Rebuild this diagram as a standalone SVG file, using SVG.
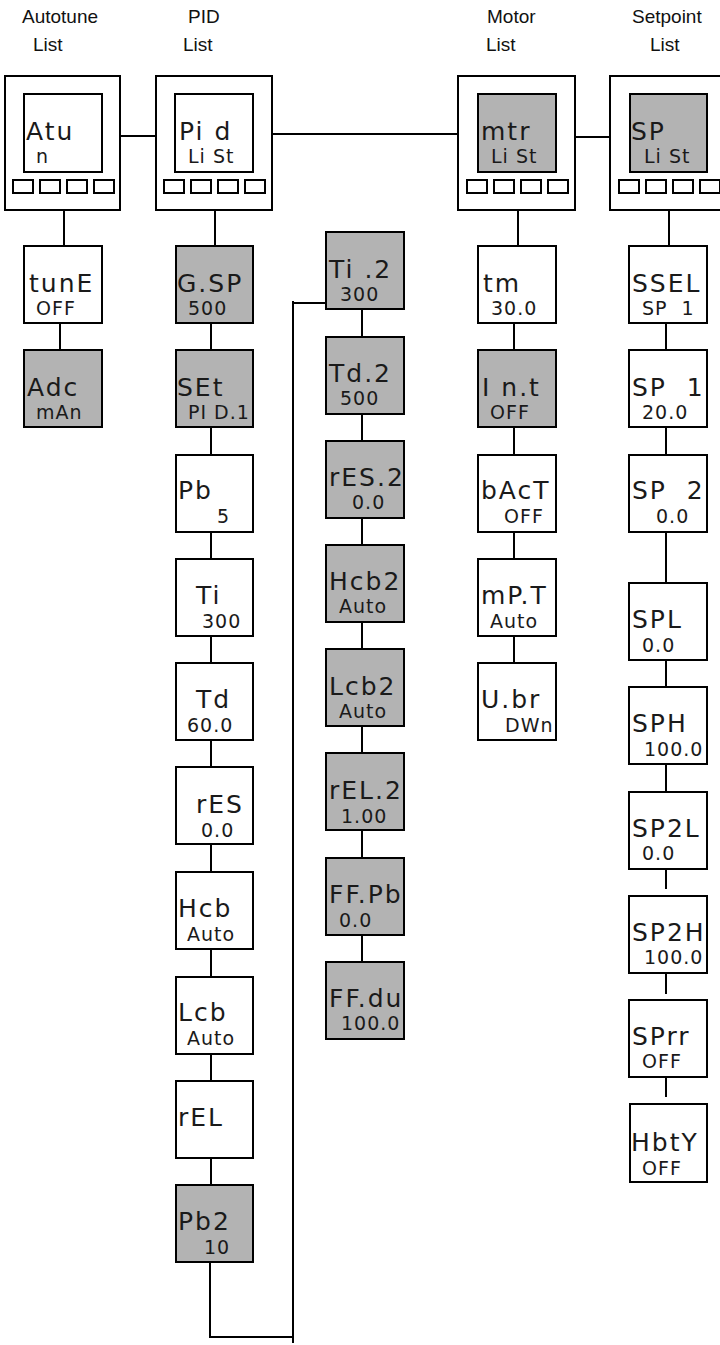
<svg xmlns="http://www.w3.org/2000/svg" width="720" height="1345" viewBox="0 0 720 1345" xml:space="preserve">
<style>
.hd{font-family:"Liberation Sans",Arial,sans-serif;font-size:19px;fill:#111}
.lb{font-family:"DejaVu Sans",sans-serif;font-size:25px;letter-spacing:2px;fill:#1a1a1a;white-space:pre}
.vl{font-family:"DejaVu Sans",sans-serif;font-size:19px;letter-spacing:1px;fill:#1a1a1a;white-space:pre}
.bx{fill:#fff;stroke:#000;stroke-width:2}
.gy{fill:#b3b3b3;stroke:#000;stroke-width:2}
.dev{fill:#fff;stroke:#000;stroke-width:2}
.btn{fill:#fff;stroke:#000;stroke-width:2}
.cn{fill:none;stroke:#000;stroke-width:2}
</style>
<defs>
<g id="btns">
<rect class="btn" x="0" y="0" width="20" height="13"/>
<rect class="btn" x="27" y="0" width="20" height="13"/>
<rect class="btn" x="54" y="0" width="20" height="13"/>
<rect class="btn" x="81" y="0" width="20" height="13"/>
</g>
</defs>

<g id="headers">
<text class="hd" x="22" y="23">Autotune</text>
<text class="hd" x="33" y="51">List</text>
<text class="hd" x="188" y="23">PID</text>
<text class="hd" x="183" y="51">List</text>
<text class="hd" x="487" y="23">Motor</text>
<text class="hd" x="486" y="51">List</text>
<text class="hd" x="632" y="23">Setpoint</text>
<text class="hd" x="650" y="51">List</text>
</g>

<g id="connectors">
<path class="cn" d="M120 136H156M272 134H458M575 137H610"/>
<path class="cn" d="M64 210V246M60 323V350"/>
<path class="cn" d="M215 210V246M211 323V350M211 427V455M211 532V559M211 636V663M211 740V767M211 844V872M211 949V977M211 1054V1081M211 1158V1185"/>
<path class="cn" d="M210 1262V1337H294M293 1343V301M292 303H326"/>
<path class="cn" d="M362 309V337M362 414V441M362 518V545M362 622V649M362 726V753M362 830V858M362 935V962"/>
<path class="cn" d="M518 210V246M514 323V350M514 427V455M514 532V559M514 636V663"/>
<path class="cn" d="M669 210V246M666 323V350M666 427V455M666 532V583M666 660V687M666 764V792M666 869V889M666 973V994M666 1077V1097"/>
</g>

<g id="dev-autotune">
<rect class="dev" x="5" y="76" width="115" height="134"/>
<rect class="bx" x="24" y="94" width="78" height="78"/>
<use href="#btns" x="13" y="180"/>
<text class="lb" x="26" y="140">Atu</text>
<text class="vl" x="36" y="163">n</text>
</g>
<g id="dev-pid">
<rect class="dev" x="156" y="76" width="116" height="134"/>
<rect class="bx" x="175" y="94" width="78" height="78"/>
<use href="#btns" x="164" y="180"/>
<text class="lb" x="179" y="140">Pi d</text>
<text class="vl" x="188" y="163">Li St</text>
</g>
<g id="dev-motor">
<rect class="dev" x="458" y="76" width="117" height="134"/>
<rect class="gy" x="478" y="94" width="78" height="78"/>
<use href="#btns" x="467" y="180"/>
<text class="lb" x="481" y="140">mtr</text>
<text class="vl" x="491" y="163">Li St</text>
</g>
<g id="dev-setpoint">
<rect class="dev" x="610" y="76" width="117" height="134"/>
<rect class="gy" x="630" y="94" width="77" height="78"/>
<use href="#btns" x="619" y="180"/>
<text class="lb" x="631" y="140">SP</text>
<text class="vl" x="644" y="163">Li St</text>
</g>

<g id="n-tunE"><rect class="bx" x="24" y="246" width="78" height="77"/><text class="lb" x="29" y="292">tunE</text><text class="vl" x="36" y="315">OFF</text></g>
<g id="n-Adc"><rect class="gy" x="24" y="350" width="78" height="77"/><text class="lb" x="27" y="396">Adc</text><text class="vl" x="36" y="419">mAn</text></g>

<g id="n-GSP"><rect class="gy" x="176" y="246" width="77" height="77"/><text class="lb" x="177" y="292">G.SP</text><text class="vl" x="188" y="315">500</text></g>
<g id="n-SEt"><rect class="gy" x="176" y="350" width="77" height="77"/><text class="lb" x="177" y="396">SEt</text><text class="vl" x="188" y="419">PI D.1</text></g>
<g id="n-Pb"><rect class="bx" x="176" y="455" width="77" height="77"/><text class="lb" x="178" y="499">Pb</text><text class="vl" x="217" y="523">5</text></g>
<g id="n-Ti"><rect class="bx" x="176" y="559" width="77" height="77"/><text class="lb" x="196" y="604">Ti</text><text class="vl" x="202" y="628">300</text></g>
<g id="n-Td"><rect class="bx" x="176" y="663" width="77" height="77"/><text class="lb" x="196" y="708">Td</text><text class="vl" x="187" y="732">60.0</text></g>
<g id="n-rES"><rect class="bx" x="176" y="767" width="77" height="77"/><text class="lb" x="196" y="813">rES</text><text class="vl" x="201" y="837">0.0</text></g>
<g id="n-Hcb"><rect class="bx" x="176" y="872" width="77" height="77"/><text class="lb" x="178" y="917">Hcb</text><text class="vl" x="187" y="941">Auto</text></g>
<g id="n-Lcb"><rect class="bx" x="176" y="977" width="77" height="77"/><text class="lb" x="178" y="1021">Lcb</text><text class="vl" x="187" y="1045">Auto</text></g>
<g id="n-rEL"><rect class="bx" x="176" y="1081" width="77" height="77"/><text class="lb" x="178" y="1126">rEL</text></g>
<g id="n-Pb2"><rect class="gy" x="176" y="1185" width="77" height="77"/><text class="lb" x="178" y="1230">Pb2</text><text class="vl" x="204" y="1254">10</text></g>

<g id="n-Ti2"><rect class="gy" x="326" y="232" width="78" height="77"/><text class="lb" x="329" y="278">Ti .2</text><text class="vl" x="340" y="301">300</text></g>
<g id="n-Td2"><rect class="gy" x="326" y="337" width="78" height="77"/><text class="lb" x="329" y="382">Td.2</text><text class="vl" x="340" y="405">500</text></g>
<g id="n-rES2"><rect class="gy" x="326" y="441" width="78" height="77"/><text class="lb" x="329" y="486">rES.2</text><text class="vl" x="352" y="509">0.0</text></g>
<g id="n-Hcb2"><rect class="gy" x="326" y="545" width="78" height="77"/><text class="lb" x="329" y="590">Hcb2</text><text class="vl" x="339" y="613">Auto</text></g>
<g id="n-Lcb2"><rect class="gy" x="326" y="649" width="78" height="77"/><text class="lb" x="329" y="695">Lcb2</text><text class="vl" x="339" y="718">Auto</text></g>
<g id="n-rEL2"><rect class="gy" x="326" y="753" width="78" height="77"/><text class="lb" x="329" y="799">rEL.2</text><text class="vl" x="341" y="823">1.00</text></g>
<g id="n-FFPb"><rect class="gy" x="326" y="858" width="78" height="77"/><text class="lb" x="329" y="903">FF.Pb</text><text class="vl" x="339" y="927">0.0</text></g>
<g id="n-FFdu"><rect class="gy" x="326" y="962" width="78" height="77"/><text class="lb" x="329" y="1007">FF.du</text><text class="vl" x="341" y="1030">100.0</text></g>

<g id="n-tm"><rect class="bx" x="478" y="246" width="78" height="77"/><text class="lb" x="483" y="292">tm</text><text class="vl" x="491" y="315">30.0</text></g>
<g id="n-Int"><rect class="gy" x="478" y="350" width="78" height="77"/><text class="lb" x="482" y="396">I n.t</text><text class="vl" x="490" y="419">OFF</text></g>
<g id="n-bAcT"><rect class="bx" x="478" y="455" width="78" height="77"/><text class="lb" x="481" y="499">bAcT</text><text class="vl" x="504" y="523">OFF</text></g>
<g id="n-mPT"><rect class="bx" x="478" y="559" width="78" height="77"/><text class="lb" x="481" y="604">mP.T</text><text class="vl" x="490" y="628">Auto</text></g>
<g id="n-Ubr"><rect class="bx" x="478" y="663" width="78" height="77"/><text class="lb" x="481" y="708">U.br</text><text class="vl" x="505" y="732">DWn</text></g>

<g id="n-SSEL"><rect class="bx" x="629" y="246" width="78" height="77"/><text class="lb" x="632" y="292">SSEL</text><text class="vl" x="642" y="315">SP  1</text></g>
<g id="n-SP1"><rect class="bx" x="629" y="350" width="78" height="77"/><text class="lb" x="632" y="396">SP  1</text><text class="vl" x="642" y="419">20.0</text></g>
<g id="n-SP2"><rect class="bx" x="629" y="455" width="78" height="77"/><text class="lb" x="632" y="499">SP  2</text><text class="vl" x="656" y="523">0.0</text></g>
<g id="n-SPL"><rect class="bx" x="629" y="583" width="78" height="77"/><text class="lb" x="632" y="628">SPL</text><text class="vl" x="642" y="652">0.0</text></g>
<g id="n-SPH"><rect class="bx" x="629" y="687" width="78" height="77"/><text class="lb" x="632" y="732">SPH</text><text class="vl" x="644" y="756">100.0</text></g>
<g id="n-SP2L"><rect class="bx" x="629" y="792" width="78" height="77"/><text class="lb" x="632" y="837">SP2L</text><text class="vl" x="642" y="860">0.0</text></g>
<g id="n-SP2H"><rect class="bx" x="629" y="896" width="78" height="77"/><text class="lb" x="632" y="941">SP2H</text><text class="vl" x="644" y="964">100.0</text></g>
<g id="n-SPrr"><rect class="bx" x="629" y="1000" width="78" height="77"/><text class="lb" x="632" y="1045">SPrr</text><text class="vl" x="642" y="1068">OFF</text></g>
<g id="n-HbtY"><rect class="bx" x="630" y="1104" width="77" height="78"/><text class="lb" x="631" y="1151">HbtY</text><text class="vl" x="642" y="1175">OFF</text></g>
</svg>
